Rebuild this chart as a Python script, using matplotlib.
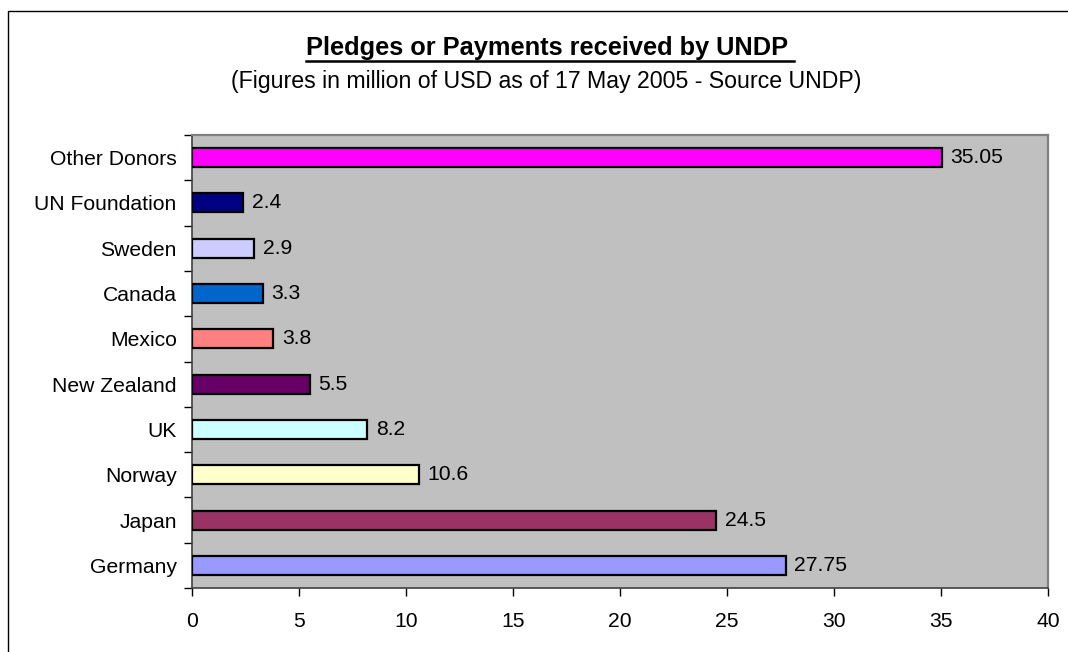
import matplotlib
matplotlib.use("Agg")
import matplotlib.pyplot as plt
from matplotlib.patches import Rectangle
from matplotlib.lines import Line2D
from matplotlib.ticker import FixedLocator

plt.rcParams['font.family'] = ['Liberation Sans', 'DejaVu Sans']

categories = ["Germany", "Japan", "Norway", "UK", "New Zealand", "Mexico",
              "Canada", "Sweden", "UN Foundation", "Other Donors"]
values = [27.75, 24.5, 10.6, 8.2, 5.5, 3.8, 3.3, 2.9, 2.4, 35.05]
value_labels = ["27.75", "24.5", "10.6", "8.2", "5.5", "3.8", "3.3", "2.9", "2.4", "35.05"]
colors = ["#9999FF", "#993366", "#FFFFCC", "#CCFFFF", "#660066", "#FF8080",
          "#0066CC", "#CCCCFF", "#000080", "#FF00FF"]
xticks = [0, 5, 10, 15, 20, 25, 30, 35, 40]

W, H = 1068, 652
fig = plt.figure(figsize=(W / 100, H / 100), dpi=100)
fig.patch.set_facecolor("white")

# outer chart frame
fig.patches.append(Rectangle((8 / W, -0.2), 1.5, 1.2 - 11 / H, transform=fig.transFigure,
                             fill=False, edgecolor="black", linewidth=1.0))

left, right, bottom, top = 192 / W, 1048 / W, 1 - 588 / H, 1 - 135 / H
ax = fig.add_axes([left, bottom, right - left, top - bottom])
ax.set_facecolor("#C0C0C0")

fs = 15.2
ypos = list(range(len(categories)))
ax.barh(ypos, values, height=0.42, color=colors, edgecolor="black", linewidth=1.6, zorder=3)
for y, v, lab in zip(ypos, values, value_labels):
    ax.text(v + 0.4, y, lab, va="center", ha="left", fontsize=fs, color="black", zorder=4)

ax.set_xlim(0, 40)
ax.set_ylim(-0.5, len(categories) - 0.5)
ax.set_xticks(xticks)
ax.set_xticklabels([str(t) for t in xticks])
ax.set_yticks(ypos)
ax.set_yticklabels(categories)
ax.yaxis.set_minor_locator(FixedLocator([i - 0.5 for i in range(len(categories) + 1)]))
ax.tick_params(axis="y", which="major", length=0, pad=11, labelsize=fs)
ax.tick_params(axis="y", which="minor", length=6, width=1.0, direction="out", color="black")
ax.tick_params(axis="x", which="major", length=6, width=1.0, direction="out", pad=11, labelsize=fs)

for s in ["top", "right"]:
    ax.spines[s].set_color("#808080")
    ax.spines[s].set_linewidth(1.6)
for s in ["left", "bottom"]:
    ax.spines[s].set_color("#404040")
    ax.spines[s].set_linewidth(1.2)

title = fig.text(550 / W, 1 - 55 / H, "Pledges or Payments received by UNDP ", ha="center", va="baseline",
                 fontsize=18.3, fontweight="bold")
fig.text(546 / W, 1 - 88 / H, "(Figures in million of USD as of 17 May 2005 - Source UNDP)",
         ha="center", va="baseline", fontsize=16.7)

fig.canvas.draw()
bb = title.get_window_extent()
inv = fig.transFigure.inverted()
(x0, y0), (x1, y1) = inv.transform([(bb.x0, bb.y0), (bb.x1, bb.y0)])
fig.lines.append(Line2D([x0, x1], [1 - 61 / H, 1 - 61 / H], transform=fig.transFigure,
                        color="black", linewidth=1.8))

fig.savefig("out.png", dpi=100)
